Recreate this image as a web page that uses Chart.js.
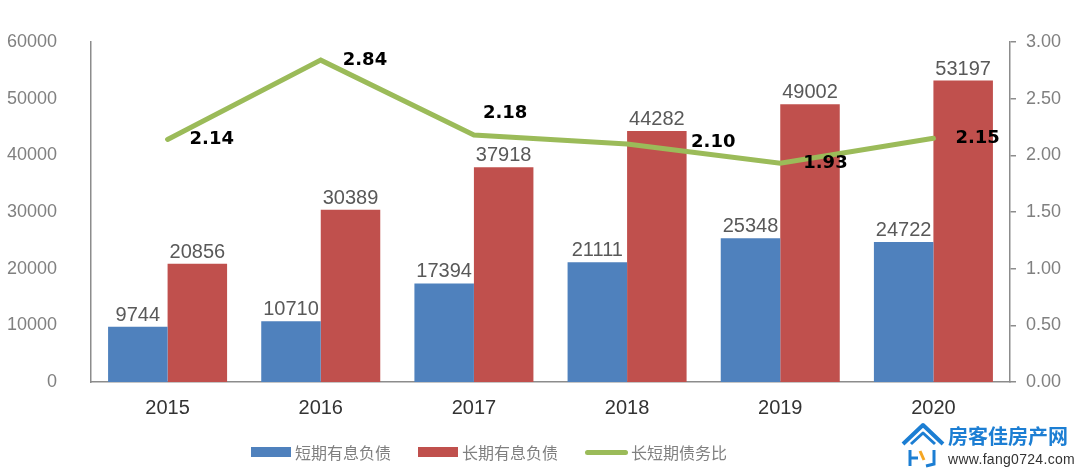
<!DOCTYPE html>
<html lang="zh">
<head>
<meta charset="UTF-8">
<title>短期与长期有息负债</title>
<script src="https://cdn.jsdelivr.net/npm/chart.js"></script>
<style>
  body { margin: 0; background: #fff; }
  #wrap { position: relative; width: 1080px; height: 472px; font-family: "Noto Sans CJK SC", sans-serif; }
  #legend { position: absolute; left: 251px; top: 440px; display: flex; align-items: center; font-size: 16px; color: #808080; }
  #legend .item { display: flex; align-items: center; margin-right: 27px; }
  #legend .sw { width: 40px; height: 10px; margin-right: 4px; }
  #legend .ln { width: 43px; height: 5px; border-radius: 3px; margin-right: 3px; }
  #logo { position: absolute; left: 900px; top: 420px; }
  #logo .name { position: absolute; left: 48px; top: 1px; font-size: 20px; font-weight: bold; color: #1c7ed3; white-space: nowrap; }
  #logo .url { position: absolute; left: 48px; top: 31px; font-size: 14px; color: #333; font-family: "Liberation Sans", sans-serif; white-space: nowrap; letter-spacing: 0.3px; }
</style>
</head>
<body>
<div id="wrap">
  <canvas id="myChart" width="1080" height="472"></canvas>
  <div id="legend">
    <div class="item"><span class="sw" style="background:#4F81BD"></span>短期有息负债</div>
    <div class="item"><span class="sw" style="background:#C0504D"></span>长期有息负债</div>
    <div class="item"><span class="ln" style="background:#9BBB59"></span>长短期债务比</div>
  </div>
  <div id="logo">
    <svg width="48" height="50" viewBox="0 0 48 50">
      <polyline points="3,24 23,5 43,24" fill="none" stroke="#1c7ed3" stroke-width="4" stroke-linejoin="round"/>
      <polyline points="11,24 23,13 35,24" fill="none" stroke="#1c7ed3" stroke-width="3" stroke-linejoin="round"/>
      <line x1="10" y1="30" x2="10" y2="46" stroke="#1c7ed3" stroke-width="3"/>
      <line x1="10" y1="38" x2="18" y2="38" stroke="#1c7ed3" stroke-width="3"/>
      <line x1="20" y1="31" x2="24" y2="40" stroke="#f5a623" stroke-width="3"/>
      <polyline points="34,30 34,44 26,46" fill="none" stroke="#1c7ed3" stroke-width="3"/>
    </svg>
    <div class="name">房客佳房产网</div>
    <div class="url">www.fang0724.com</div>
  </div>
</div>
<script>
const years = ['2015', '2016', '2017', '2018', '2019', '2020'];
const shortDebt = [9744, 10710, 17394, 21111, 25348, 24722];
const longDebt = [20856, 30389, 37918, 44282, 49002, 53197];
const debtRatio = [2.14, 2.84, 2.18, 2.10, 1.93, 2.15];

const axisColor = '#8c8c8c';
const tickColor = '#808080';
const numFont = "'Liberation Sans', Arial, sans-serif";

// bar value labels + bold ratio labels
const labelPlugin = {
  id: 'labels',
  afterDatasetsDraw(chart) {
    const ctx = chart.ctx;
    ctx.save();
    ctx.font = '20px ' + numFont;
    ctx.fillStyle = '#595959';
    ctx.textAlign = 'center';
    ctx.textBaseline = 'alphabetic';
    [1, 2].forEach(di => {
      const meta = chart.getDatasetMeta(di);
      meta.data.forEach((el, i) => {
        ctx.fillText(chart.data.datasets[di].data[i], el.x, el.y - 6);
      });
    });
    // ratio labels, nudged like the original
    const offs = [[22, 0], [22, 0], [9, -22], [64, -2], [23, 0], [22, 0]];
    ctx.font = "bold 18px 'DejaVu Sans', sans-serif";
    ctx.fillStyle = '#000';
    ctx.textAlign = 'left';
    ctx.textBaseline = 'middle';
    chart.getDatasetMeta(0).data.forEach((el, i) => {
      ctx.fillText(debtRatio[i].toFixed(2), el.x + offs[i][0], el.y + offs[i][1]);
    });
    ctx.restore();
  }
};

const ctx = document.getElementById('myChart').getContext('2d');
new Chart(ctx, {
  type: 'bar',
  data: {
    labels: years,
    datasets: [
      { type: 'line', label: '长短期债务比', data: debtRatio, yAxisID: 'y1',
        borderColor: '#9BBB59', borderWidth: 5, pointRadius: 0, tension: 0, order: 0,
        borderCapStyle: 'round' },
      { label: '短期有息负债', data: shortDebt, backgroundColor: '#4F81BD', yAxisID: 'y', order: 1,
        categoryPercentage: 0.777, barPercentage: 1 },
      { label: '长期有息负债', data: longDebt, backgroundColor: '#C0504D', yAxisID: 'y', order: 1,
        categoryPercentage: 0.777, barPercentage: 1 }
    ]
  },
  options: {
    responsive: false,
    animation: false,
    layout: { padding: { top: 42, left: 0, right: 0, bottom: 0 } },
    plugins: { legend: { display: false }, tooltip: { enabled: false } },
    scales: {
      x: {
        grid: { display: false },
        border: { display: true, color: axisColor, width: 1.5 },
        ticks: { color: '#333333', font: { size: 20, family: numFont }, padding: 6 },
        afterFit: s => { s.height = 90; }
      },
      y: {
        position: 'left', min: 0, max: 60000,
        grid: { display: false },
        border: { display: true, color: axisColor, width: 1.5 },
        ticks: { stepSize: 10000, color: tickColor, padding: 26, font: { size: 18, family: numFont },
          callback: v => String(v) },
        afterFit: s => { s.width = 91; }
      },
      y1: {
        position: 'right', min: 0, max: 3,
        grid: { drawOnChartArea: false, drawTicks: true, tickLength: 6, color: axisColor, lineWidth: 1.5 },
        border: { display: true, color: axisColor, width: 1.5 },
        ticks: { stepSize: 0.5, color: tickColor, padding: 10, font: { size: 18, family: numFont },
          callback: v => v.toFixed(2) },
        afterFit: s => { s.width = 70; }
      }
    }
  },
  plugins: [labelPlugin]
});
</script>
</body>
</html>
